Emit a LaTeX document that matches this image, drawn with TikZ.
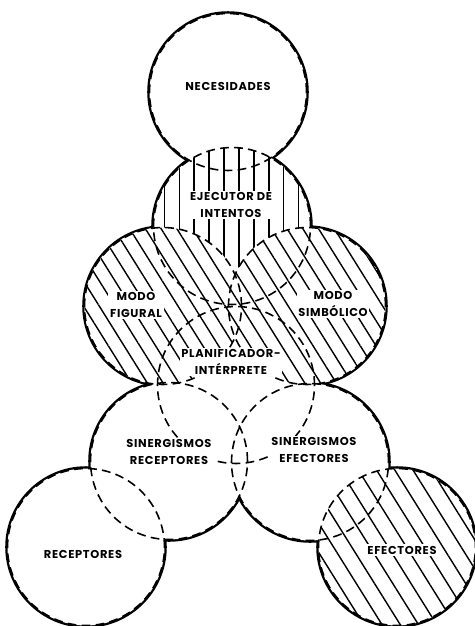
\documentclass[tikz,border=0pt]{standalone}
\usepackage{fontspec}
\setmainfont{Poppins}[LetterSpace=6]
\usepackage{tikz}
\usetikzlibrary{patterns.meta}
\newcommand{\cRad}{1.57cm}
\newcommand{\labelfont}{\fontsize{6.5}{9.6}\selectfont\bfseries}
\tikzstyle{vOuter} = [line width=2.6pt, draw=black]
\tikzstyle{vDashed} = [line width=0.9pt, dash pattern=on 5pt off 3pt]
\tikzstyle{vVertical} = [pattern={Lines[angle=90, distance=8.5pt, line width=0.8pt]}]
\tikzstyle{vSlanted} = [pattern={Lines[angle=122, distance=7.6pt, line width=0.8pt]}]
\tikzstyle{vSlantedWide} = [pattern={Lines[angle=122, distance=8.8pt, line width=0.8pt]}]
\tikzstyle{vLabel} = [fill=white, inner sep=1pt, align=center, font=\labelfont]

\begin{document}
\begin{tikzpicture}[x=0.02cm, y=-0.02cm]
    \useasboundingbox (0,0) rectangle (475,626);
    % centres of the circles
    \coordinate (nec) at (228,92);
    \coordinate (eje) at (232,226);
    \coordinate (fig) at (163,306);
    \coordinate (sim) at (307,306);
    \coordinate (pla) at (236,385);
    \coordinate (sre) at (169,461);
    \coordinate (sef) at (310,462);
    \coordinate (rec) at (86,547);
    \coordinate (efe) at (397,547);

    % outer contour stays solid, the inner arcs become dashed
    \foreach \c in {nec,eje,fig,sim,pla,sre,sef,rec,efe}
        \draw [vOuter] (\c) circle (\cRad);
    \foreach \c in {nec,eje,fig,sim,pla,sre,sef,rec,efe}
        \fill [white] (\c) circle (\cRad);

    \path [vVertical] (eje) circle (\cRad);
    \fill [white] (fig) circle (\cRad) (sim) circle (\cRad);
    \path [vSlanted] (fig) circle (\cRad) (sim) circle (\cRad);
    \path [vSlantedWide] (efe) circle (\cRad);

    \foreach \c in {nec,eje,fig,sim,pla,sre,sef,rec,efe}
        \draw [vDashed] (\c) circle (\cRad);

    \node (tNec) [vLabel] at (228,86) {NECESIDADES};
    \node (tEje) [vLabel] at (231,205) {EJECUTOR DE\\INTENTOS};
    \node (tFig) [vLabel] at (136,305) {MODO\\FIGURAL};
    \node (tSim) [vLabel] at (333,304) {MODO\\SIMBÓLICO};
    \node (tPla) [vLabel] at (231,362) {PLANIFICADOR-\\INTÉRPRETE};
    \node (tSre) [vLabel] at (169,452) {SINERGISMOS\\RECEPTORES};
    \node (tSef) [vLabel] at (314,450) {SINERGISMOS\\EFECTORES};
    \node (tRec) [vLabel] at (83,554) {RECEPTORES};
    \node (tEfe) [vLabel] at (402,550) {EFECTORES};
\end{tikzpicture}
\end{document}
